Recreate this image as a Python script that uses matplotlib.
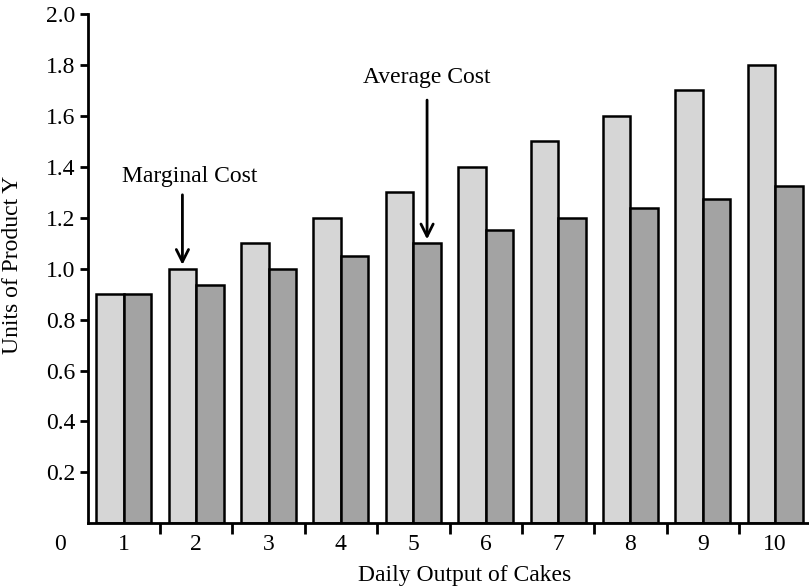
import matplotlib
matplotlib.use("Agg")
import matplotlib.pyplot as plt
import numpy as np

plt.rcParams['font.family'] = ['Liberation Serif', 'DejaVu Serif']

outputs = [1, 2, 3, 4, 5, 6, 7, 8, 9, 10]
marginal_cost = [0.9, 1.0, 1.1, 1.2, 1.3, 1.4, 1.5, 1.6, 1.7, 1.8]
average_cost = [0.9, 0.9375, 1.0, 1.05, 1.1, 1.15, 1.2, 1.2375, 1.275, 1.325]
y_ticks = [0.2, 0.4, 0.6, 0.8, 1.0, 1.2, 1.4, 1.6, 1.8, 2.0]

FS = 17
W, H = 809, 587
AX_L, AX_R, AX_T, AX_B = 87.6, 811.4, 14.0, 523.3
fig = plt.figure(figsize=(W / 100, H / 100), dpi=100)
ax = fig.add_axes([AX_L / W, (H - AX_B) / H, (AX_R - AX_L) / W, (AX_B - AX_T) / H])

x = np.array(outputs, dtype=float)
bw = 0.38
ax.bar(x - bw / 2, marginal_cost, width=bw, color='#d6d6d6', edgecolor='black', linewidth=1.8, zorder=2)
ax.bar(x + bw / 2, average_cost, width=bw, color='#a3a3a3', edgecolor='black', linewidth=1.8, zorder=2)

ax.set_xlim(0.5, 10.5)
ax.set_ylim(0, 2.0)

for s in ['top', 'right']:
    ax.spines[s].set_visible(False)
for s in ['left', 'bottom']:
    ax.spines[s].set_linewidth(2.0)

ax.set_yticks(y_ticks)
ax.set_yticklabels([f"{v:.1f}" for v in y_ticks], fontsize=FS)
ax.tick_params(axis='y', direction='out', length=6, width=2.0, pad=3)

# category boundary ticks (no labels), labels at centers
ax.set_xticks(x[:-1] + 0.5)
ax.set_xticklabels([])
ax.tick_params(axis='x', which='major', direction='out', length=8, width=2.0)
ax.set_xticks(x, minor=True)
ax.set_xticklabels([str(v) for v in outputs], minor=True, fontsize=FS)
ax.tick_params(axis='x', which='minor', length=0, pad=8)

ax.text(60 / W, (H - 545) / H, "0", transform=fig.transFigure, fontsize=FS,
        ha='center', va='center')

ax.set_ylabel("Units of Product Y", fontsize=FS, va='center')
ax.yaxis.set_label_coords((13 - AX_L) / (AX_R - AX_L), (AX_B - 265) / (AX_B - AX_T))
ax.set_xlabel("Daily Output of Cakes", fontsize=FS, va='baseline')
ax.xaxis.set_label_coords((465 - AX_L) / (AX_R - AX_L), (AX_B - 581.5) / (AX_B - AX_T))

arrow = dict(arrowstyle='->', lw=2.0, color='black', shrinkA=0, shrinkB=0, mutation_scale=22)
# Marginal cost label and arrow
ax.text(1.915, 1.362, "Marginal Cost", fontsize=FS, ha='center', va='center')
ax.annotate("", xy=(x[1] - bw / 2, marginal_cost[1] + 0.015), xytext=(x[1] - bw / 2, 1.29),
            arrowprops=arrow)
# Average cost label and arrow
ax.text(x[4] + bw / 2, 1.75, "Average Cost", fontsize=FS, ha='center', va='center')
ax.annotate("", xy=(x[4] + bw / 2, average_cost[4] + 0.015), xytext=(x[4] + bw / 2, 1.662),
            arrowprops=arrow)

fig.savefig("out.png", dpi=100)
